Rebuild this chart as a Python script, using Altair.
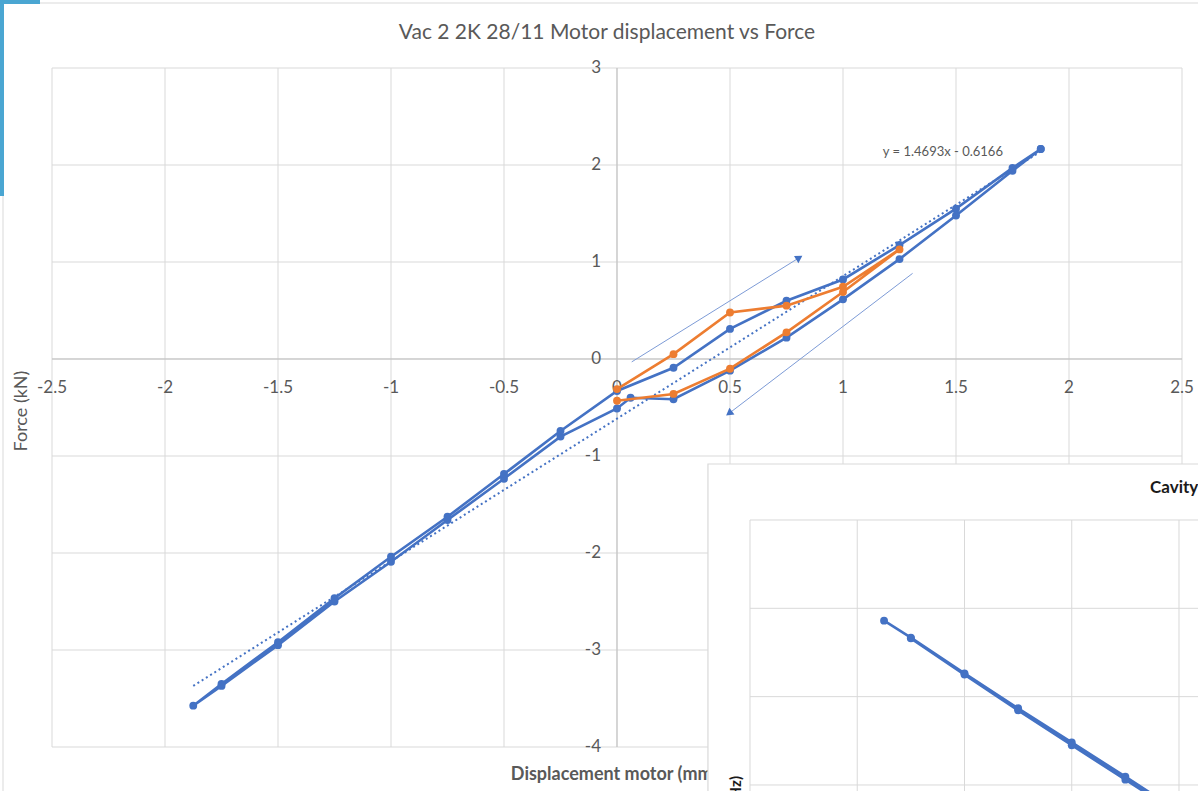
import altair as alt
import pandas as pd

# ---------------- data ----------------
blue_x = [1.875, 1.75, 1.5, 1.25, 1.0, 0.75, 0.5, 0.25, 0.06, 0.0, -0.25, -0.5, -0.75, -1.0, -1.25, -1.5, -1.75, -1.875,
          -1.75, -1.5, -1.25, -1.0, -0.75, -0.5, -0.25, 0.0, 0.25, 0.5, 0.75, 1.0, 1.25, 1.5, 1.75, 1.875]
blue_y = [2.165, 1.94, 1.48, 1.03, 0.615, 0.22, -0.12, -0.415, -0.40, -0.51, -0.80, -1.234, -1.66, -2.09, -2.50, -2.95, -3.37, -3.574,
          -3.35, -2.92, -2.467, -2.038, -1.626, -1.186, -0.742, -0.33, -0.09, 0.31, 0.60, 0.82, 1.175, 1.55, 1.97, 2.165]

orange_x = [0.0, 0.25, 0.5, 0.75, 1.0, 1.25, 1.0, 0.75, 0.5, 0.25, 0.0]
orange_y = [-0.31, 0.05, 0.48, 0.55, 0.745, 1.13, 0.69, 0.275, -0.10, -0.36, -0.43]

trend_x = [-1.875, 1.875]
trend_y = [-3.37, 2.14]
trend_label = ["y = 1.4693x - 0.6166"]
trend_label_x = [1.442]
trend_label_y = [2.134]

# direction arrows (start -> tip, in data units)
arrow_x = [0.065, 1.308]
arrow_y = [-0.03, 0.883]
arrow_x2 = [0.802, 0.5]
arrow_y2 = [1.038, -0.553]
arrow_angle = [58, 233]

x_ticks = [-2.5, -2.0, -1.5, -1.0, -0.5, 0.0, 0.5, 1.0, 1.5, 2.0, 2.5]
x_tick_labels = ["-2.5", "-2", "-1.5", "-1", "-0.5", "0", "0.5", "1", "1.5", "2", "2.5"]
y_ticks = [-4, -3, -2, -1, 0, 1, 2, 3]
y_tick_labels = ["-4", "-3", "-2", "-1", "0", "1", "2", "3"]

chart_title = "Vac 2 2K 28/11 Motor displacement vs Force"
x_title = "Displacement motor (mm)"
y_title = "Force (kN)"

# overlapping second chart (partly visible, bottom right)
inset_x = [-1.875, -1.75, -1.5, -1.25, -1.0, -0.75, -0.5, -0.5, -0.75, -1.0, -1.25, -1.5, -1.75]
inset_y = [1.86, 1.668, 1.264, 0.868, 0.483, 0.094, -0.30, -0.33, 0.06, 0.45, 0.845, 1.25, 1.66]
inset_x_ticks = [-2.5, -2.0, -1.5, -1.0, -0.5]
inset_y_ticks = [3, 2, 1, 0]
inset_title = ["Cavity frequency vs displacement"]
inset_y_title = ["Frequency (Hz)"]

# ---------------- layout / style ----------------
FONT = "Lato"
TXT = "#595959"
GRID = "#d9d9d9"
AXISC = "#bfbfbf"
BLUE = "#4472C4"
ORANGE = "#ED7D31"
W, H = 1130, 679
PAD = {"left": 52, "top": 68, "right": 16, "bottom": 44}
MSIZE = 62

XS = alt.Scale(domain=[-2.5, 2.5], nice=False, zero=False)
YS = alt.Scale(domain=[-4, 3], nice=False, zero=False)
# inset scales (independent), chosen so the inset sits in the lower right
IXS = alt.Scale(domain=[-5.754, -0.486], nice=False, zero=False)
IYS = alt.Scale(domain=[0.430, 8.117], nice=False, zero=False)
INSET_PANEL = dict(x0=-2.696, x1=0.6, y0=3.634, y1=-1.6)
INSET_TITLE_POS = dict(x=-0.635, y=3.362)
INSET_YTITLE_POS = dict(x=-2.565, y=0.102)

one = pd.DataFrame({"k": [0]})


def xq(f="x"):
    return alt.X(f + ":Q", scale=XS, axis=None)


def yq(f="y"):
    return alt.Y(f + ":Q", scale=YS, axis=None)


blue_df = pd.DataFrame({"i": list(range(len(blue_x))), "x": blue_x, "y": blue_y})
orange_df = pd.DataFrame({"i": list(range(len(orange_x))), "x": orange_x, "y": orange_y})
trend_df = pd.DataFrame({"x": trend_x, "y": trend_y})
arrow_df = pd.DataFrame({"x": arrow_x, "y": arrow_y, "x2": arrow_x2, "y2": arrow_y2, "ang": arrow_angle})
tl_df = pd.DataFrame({"x": trend_label_x, "y": trend_label_y, "t": trend_label})
xt_df = pd.DataFrame({"x": x_ticks, "y": [0] * len(x_ticks), "t": x_tick_labels})
yt_df = pd.DataFrame({"y": y_ticks, "x": [0] * len(y_ticks), "t": y_tick_labels})

grid_v = alt.Chart(pd.DataFrame({"x": x_ticks})).mark_rule(color=GRID, strokeWidth=1).encode(x=xq())
grid_h = alt.Chart(pd.DataFrame({"y": y_ticks})).mark_rule(color=GRID, strokeWidth=1).encode(y=yq())
axis_x = alt.Chart(pd.DataFrame({"y": [0]})).mark_rule(color=AXISC, strokeWidth=1).encode(y=yq())
axis_y = alt.Chart(pd.DataFrame({"x": [0]})).mark_rule(color=AXISC, strokeWidth=1).encode(x=xq())

x_labels = alt.Chart(xt_df).mark_text(font=FONT, fontSize=17, color=TXT, baseline="middle", dy=29).encode(
    x=xq(), y=yq(), text="t:N")
y_labels = alt.Chart(yt_df).mark_text(font=FONT, fontSize=17, color=TXT, baseline="middle", align="right",
                                      dx=-16).encode(x=xq(), y=yq(), text="t:N")

blue_line = alt.Chart(blue_df).mark_line(color=BLUE, strokeWidth=2.6).encode(x=xq(), y=yq(), order="i:Q")
blue_pts = alt.Chart(blue_df).mark_point(filled=True, color=BLUE, size=MSIZE, opacity=1).encode(x=xq(), y=yq())

trend = alt.Chart(trend_df).mark_line(color=BLUE, strokeWidth=2, strokeDash=[2, 3]).encode(x=xq(), y=yq())

orange_line = alt.Chart(orange_df).mark_line(color=ORANGE, strokeWidth=2.6).encode(x=xq(), y=yq(), order="i:Q")
orange_pts = alt.Chart(orange_df).mark_point(filled=True, color=ORANGE, size=MSIZE, opacity=1).encode(x=xq(), y=yq())

arrow_lines = alt.Chart(arrow_df).mark_rule(color="#7d9bd6", strokeWidth=1).encode(
    x=xq(), y=yq(), x2="x2:Q", y2="y2:Q")
arrow_heads = alt.Chart(arrow_df).mark_point(shape="triangle", filled=True, color=BLUE, size=70, opacity=1).encode(
    x=xq("x2"), y=yq("y2"), angle=alt.Angle("ang:Q", scale=None))

trend_text = alt.Chart(tl_df).mark_text(font=FONT, fontSize=13, color=TXT).encode(x=xq(), y=yq(), text="t:N")

title_text = alt.Chart(one).mark_text(font=FONT, fontSize=21, color=TXT, text=chart_title).encode(
    x=alt.value(555), y=alt.value(-35))
xtitle_text = alt.Chart(one).mark_text(font=FONT, fontSize=18, fontWeight="bold", color=TXT, text=x_title).encode(
    x=alt.value(562), y=alt.value(707))
ytitle_text = alt.Chart(one).mark_text(font=FONT, fontSize=18, color=TXT, text=y_title, angle=270).encode(
    x=alt.value(-30), y=alt.value(343))

outer_border = alt.Chart(one).mark_rect(filled=False, stroke=GRID, strokeWidth=1).encode(
    x=alt.value(-49), x2=alt.value(1160), y=alt.value(-65), y2=alt.value(740))
deco_top = alt.Chart(one).mark_rect(color="#4aa6d2").encode(
    x=alt.value(-52), x2=alt.value(-12), y=alt.value(-68), y2=alt.value(-64))
deco_left = alt.Chart(one).mark_rect(color="#4aa6d2").encode(
    x=alt.value(-52), x2=alt.value(-48), y=alt.value(-68), y2=alt.value(128))

main = alt.layer(outer_border, deco_top, deco_left, grid_v, grid_h, axis_x, axis_y, x_labels, y_labels,
                 blue_line, blue_pts, trend, orange_line, orange_pts, arrow_lines, arrow_heads, trend_text,
                 title_text, xtitle_text, ytitle_text)


# ---------------- inset ----------------
def ixq(f="x"):
    return alt.X(f + ":Q", scale=IXS, axis=None)


def iyq(f="y"):
    return alt.Y(f + ":Q", scale=IYS, axis=None)


panel_df = pd.DataFrame({"x": [INSET_PANEL["x0"]], "x2": [INSET_PANEL["x1"]],
                         "y": [INSET_PANEL["y0"]], "y2": [INSET_PANEL["y1"]]})
panel = alt.Chart(panel_df).mark_rect(fill="white", stroke=GRID, strokeWidth=1.2).encode(
    x=ixq(), x2="x2:Q", y=iyq(), y2="y2:Q")

igv_df = pd.DataFrame({"x": inset_x_ticks, "y": [3] * len(inset_x_ticks), "y2": [-1.6] * len(inset_x_ticks)})
igv = alt.Chart(igv_df).mark_rule(color=GRID, strokeWidth=1).encode(x=ixq(), y=iyq(), y2="y2:Q")
igh_df = pd.DataFrame({"y": inset_y_ticks, "x": [-2.5] * len(inset_y_ticks), "x2": [0.6] * len(inset_y_ticks)})
igh = alt.Chart(igh_df).mark_rule(color=GRID, strokeWidth=1).encode(y=iyq(), x=ixq(), x2="x2:Q")

inset_df = pd.DataFrame({"i": list(range(len(inset_x))), "x": inset_x, "y": inset_y})
inset_line = alt.Chart(inset_df).mark_line(color=BLUE, strokeWidth=2.6).encode(x=ixq(), y=iyq(), order="i:Q")
inset_pts = alt.Chart(inset_df).mark_point(filled=True, color=BLUE, size=MSIZE, opacity=1).encode(x=ixq(), y=iyq())

it_df = pd.DataFrame({"x": [INSET_TITLE_POS["x"]], "y": [INSET_TITLE_POS["y"]], "t": inset_title})
inset_t = alt.Chart(it_df).mark_text(font=FONT, fontSize=17, fontWeight="bold", color="#1a1a1a",
                                     align="left", baseline="middle").encode(x=ixq(), y=iyq(), text="t:N")
iyt_df = pd.DataFrame({"x": [INSET_YTITLE_POS["x"]], "y": [INSET_YTITLE_POS["y"]], "t": inset_y_title})
inset_yt = alt.Chart(iyt_df).mark_text(font=FONT, fontSize=15, fontWeight="bold", color="#1a1a1a",
                                       angle=270, align="right", baseline="middle").encode(
    x=ixq(), y=iyq(), text="t:N")

inset = alt.layer(panel, igv, igh, inset_line, inset_pts, inset_t, inset_yt)

chart = alt.layer(main, inset).resolve_scale(x="independent", y="independent").properties(
    width=W, height=H, padding=PAD, autosize=alt.AutoSizeParams(type="none"),
    background="white"
).configure_view(stroke=None)

chart.save("out.html", embed_options={"renderer": "svg", "actions": False})
